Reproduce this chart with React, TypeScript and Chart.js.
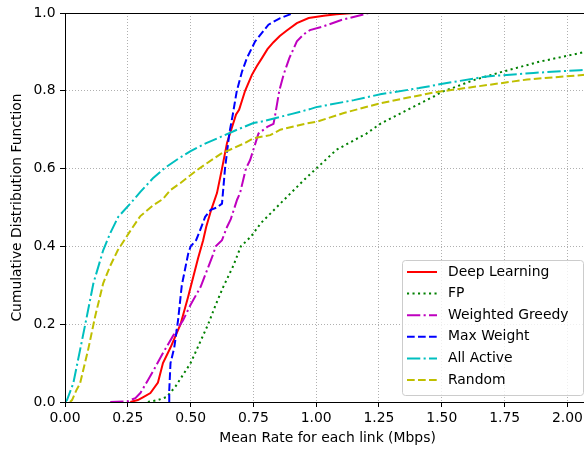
import React, { useEffect, useRef } from 'react';
import { Chart, registerables } from 'chart.js';

Chart.register(...registerables);

// ---------- data ----------
const seriesLabels = ['Deep Learning', 'FP', 'Weighted Greedy', 'Max Weight', 'All Active', 'Random'];

const deepLearningX = [0.26, 0.29, 0.31, 0.34, 0.37, 0.39, 0.42, 0.46, 0.49, 0.51, 0.53, 0.55, 0.562, 0.582, 0.605, 0.625, 0.645, 0.681, 0.693, 0.717, 0.744, 0.764, 0.784, 0.806, 0.83, 0.855, 0.883, 0.923, 0.97, 1.03, 1.08, 1.15];
const deepLearningY = [0, 0.005, 0.012, 0.023, 0.05, 0.1, 0.14, 0.2, 0.27, 0.32, 0.37, 0.416, 0.45, 0.494, 0.537, 0.6, 0.666, 0.739, 0.751, 0.8, 0.841, 0.864, 0.884, 0.907, 0.925, 0.941, 0.955, 0.974, 0.987, 0.993, 0.997, 1.0];

const fpX = [0.33, 0.37, 0.405, 0.44, 0.47, 0.5, 0.535, 0.57, 0.6, 0.63, 0.67, 0.7, 0.74, 0.78, 0.82, 0.857, 0.95, 1.0, 1.08, 1.2, 1.255, 1.36, 1.47, 1.5, 1.63, 1.73, 1.89, 2.05, 2.09];
const fpY = [0, 0.005, 0.013, 0.04, 0.07, 0.1, 0.15, 0.2, 0.25, 0.296, 0.35, 0.4, 0.425, 0.46, 0.486, 0.51, 0.57, 0.6, 0.648, 0.69, 0.715, 0.75, 0.786, 0.797, 0.828, 0.847, 0.875, 0.897, 0.903];

const weightedGreedyX = [0.18, 0.25, 0.28, 0.3, 0.33, 0.36, 0.39, 0.43, 0.47, 0.5, 0.54, 0.59, 0.6, 0.625, 0.645, 0.66, 0.685, 0.697, 0.72, 0.737, 0.77, 0.805, 0.83, 0.837, 0.853, 0.87, 0.893, 0.923, 0.95, 0.975, 1.03, 1.1, 1.21];
const weightedGreedyY = [0, 0.002, 0.01, 0.023, 0.056, 0.09, 0.126, 0.17, 0.21, 0.25, 0.296, 0.38, 0.4, 0.416, 0.45, 0.47, 0.52, 0.537, 0.6, 0.622, 0.69, 0.707, 0.715, 0.739, 0.8, 0.841, 0.884, 0.927, 0.945, 0.956, 0.966, 0.982, 1.0];

const maxWeightX = [0.415, 0.415, 0.42, 0.435, 0.45, 0.465, 0.49, 0.5, 0.522, 0.538, 0.558, 0.58, 0.605, 0.625, 0.637, 0.654, 0.668, 0.684, 0.705, 0.724, 0.757, 0.81, 0.857, 0.91];
const maxWeightY = [0, 0.03, 0.1, 0.14, 0.21, 0.3, 0.38, 0.4, 0.416, 0.442, 0.476, 0.494, 0.5, 0.51, 0.6, 0.69, 0.739, 0.8, 0.85, 0.884, 0.927, 0.97, 0.987, 1.0];

const allActiveX = [0, 0.008, 0.033, 0.06, 0.087, 0.113, 0.152, 0.18, 0.212, 0.26, 0.3, 0.35, 0.4, 0.45, 0.5, 0.56, 0.618, 0.685, 0.75, 0.79, 0.9, 0.976, 1.0, 1.15, 1.255, 1.41, 1.52, 1.68, 1.865, 2.05, 2.09];
const allActiveY = [0, 0.005, 0.048, 0.134, 0.22, 0.305, 0.39, 0.434, 0.476, 0.51, 0.54, 0.575, 0.603, 0.625, 0.645, 0.665, 0.681, 0.7, 0.717, 0.722, 0.74, 0.753, 0.758, 0.776, 0.791, 0.807, 0.82, 0.837, 0.846, 0.853, 0.855];

const randomX = [0.02, 0.028, 0.045, 0.06, 0.092, 0.12, 0.152, 0.18, 0.21, 0.26, 0.3, 0.35, 0.39, 0.42, 0.46, 0.525, 0.62, 0.717, 0.75, 0.817, 0.857, 0.96, 1.0, 1.11, 1.255, 1.47, 1.65, 1.84, 2.05, 2.09];
const randomY = [0, 0.005, 0.03, 0.048, 0.134, 0.22, 0.305, 0.35, 0.39, 0.44, 0.478, 0.505, 0.522, 0.545, 0.563, 0.596, 0.638, 0.666, 0.678, 0.686, 0.7, 0.716, 0.72, 0.743, 0.768, 0.796, 0.812, 0.829, 0.84, 0.842];

const xTickValues = [0, 0.25, 0.5, 0.75, 1.0, 1.25, 1.5, 1.75, 2.0];
const xTickLabels = ['0.00', '0.25', '0.50', '0.75', '1.00', '1.25', '1.50', '1.75', '2.00'];
const yTickValues = [0, 0.2, 0.4, 0.6, 0.8, 1.0];
const yTickLabels = ['0.0', '0.2', '0.4', '0.6', '0.8', '1.0'];

const xAxisTitle = 'Mean Rate for each link (Mbps)';
const yAxisTitle = 'Cumulative Distribution Function';
const xMin = 0;
const xMax = 2.09;
const yMin = 0;
const yMax = 1;

// ---------- styles ----------
const FONT = '"DejaVu Sans", "Liberation Sans", sans-serif';
const FS = 13.9;
const LW = 2;
const DASHED = [7.7, 3.3];
const DASHDOT = [13.3, 3.3, 2.1, 3.3];
const DOTTED = [2.1, 3.4];

const pts = (xs: number[], ys: number[]) => xs.map((x, i) => ({ x, y: ys[i] }));

const seriesX = [deepLearningX, fpX, weightedGreedyX, maxWeightX, allActiveX, randomX];
const seriesY = [deepLearningY, fpY, weightedGreedyY, maxWeightY, allActiveY, randomY];
const seriesColors = ['#ff0000', '#008000', '#bf00bf', '#0000ff', '#00bfbf', '#bfbf00'];
const seriesDash = [[], DOTTED, DASHDOT, DASHED, DASHDOT, DASHED];

const legendPlugin = {
  id: 'mplLegend',
  afterDraw(chart: any) {
    const { ctx, chartArea } = chart;
    const ds = chart.data.datasets;
    const rowH = 21.6;
    const boxW = 181;
    const boxH = 135;
    const right = chartArea.right - 7;
    const bottom = chartArea.bottom - 7;
    const left = Math.round(right - boxW);
    const top = Math.round(bottom - boxH);
    ctx.save();
    ctx.beginPath();
    if (ctx.roundRect) ctx.roundRect(left + 0.5, top + 0.5, boxW, boxH, 3);
    else ctx.rect(left + 0.5, top + 0.5, boxW, boxH);
    ctx.fillStyle = 'rgba(255,255,255,0.8)';
    ctx.fill();
    ctx.strokeStyle = '#cccccc';
    ctx.lineWidth = 1;
    ctx.stroke();
    ds.forEach((d: any, i: number) => {
      const cy = top + 12 + i * rowH;
      ctx.beginPath();
      ctx.setLineDash(d.borderDash || []);
      ctx.strokeStyle = d.borderColor;
      ctx.lineWidth = d.borderWidth;
      ctx.moveTo(left + 5, cy);
      ctx.lineTo(left + 35, cy);
      ctx.stroke();
      ctx.setLineDash([]);
      ctx.fillStyle = '#000';
      ctx.font = `${FS}px ${FONT}`;
      ctx.textBaseline = 'middle';
      ctx.textAlign = 'left';
      ctx.fillText(d.label, left + 46, cy);
    });
    ctx.restore();
  },
};

const topSpinePlugin = {
  id: 'topSpine',
  afterDatasetsDraw(chart: any) {
    const { ctx, chartArea } = chart;
    ctx.save();
    ctx.strokeStyle = '#000';
    ctx.lineWidth = 1;
    ctx.beginPath();
    const y = Math.round(chartArea.top) + 0.5;
    ctx.moveTo(chartArea.left, y);
    ctx.lineTo(chartArea.right, y);
    ctx.moveTo(Math.round(chartArea.right) + 0.5, chartArea.top);
    ctx.lineTo(Math.round(chartArea.right) + 0.5, chartArea.bottom);
    ctx.stroke();
    ctx.restore();
  },
};

export default function App() {
  const ref = useRef<HTMLCanvasElement | null>(null);

  useEffect(() => {
    if (!ref.current) return;
    Chart.defaults.color = '#000';
    Chart.defaults.font.family = FONT;
    Chart.defaults.font.size = FS;

    const datasets = seriesLabels.map((label, i) => ({
      label,
      data: pts(seriesX[i], seriesY[i]),
      borderColor: seriesColors[i],
      backgroundColor: seriesColors[i],
      borderWidth: LW,
      borderDash: seriesDash[i],
      pointRadius: 0,
      pointHoverRadius: 0,
      tension: 0,
      fill: false,
      order: seriesLabels.length - i,
    }));

    const gridCommon = {
      color: '#b0b0b0',
      lineWidth: 1,
      borderDash: [1, 2],
      tickColor: '#000',
      tickLength: 5,
      tickWidth: 1,
      tickBorderDash: [],
    };

    const chart = new Chart(ref.current, {
      type: 'line',
      data: { datasets },
      plugins: [topSpinePlugin, legendPlugin],
      options: {
        animation: false,
        responsive: false,
        maintainAspectRatio: false,
        layout: { padding: { top: 13, right: 10, left: 0, bottom: 0 } },
        plugins: {
          legend: { display: false },
          tooltip: { enabled: false },
        },
        scales: {
          x: {
            type: 'linear',
            min: xMin,
            max: xMax,
            grid: gridCommon,
            border: { display: true, color: '#000', width: 1, dash: [1, 2], z: 1 },
            afterBuildTicks: (s: any) => {
              s.ticks = xTickValues.map((v) => ({ value: v }));
            },
            afterFit: (s: any) => {
              s.height = 47;
            },
            ticks: {
              includeBounds: false,
              padding: 3,
              maxRotation: 0,
              autoSkip: false,
              color: '#000',
              font: { size: FS, family: FONT },
              callback: (_v: any, i: number) => xTickLabels[i],
            },
            title: {
              display: true,
              text: xAxisTitle,
              color: '#000',
              font: { size: FS, family: FONT },
              padding: { top: 0, bottom: 2.7 },
            },
          },
          y: {
            type: 'linear',
            min: yMin,
            max: yMax,
            grid: gridCommon,
            border: { display: true, color: '#000', width: 1, dash: [1, 2], z: 1 },
            afterBuildTicks: (s: any) => {
              s.ticks = yTickValues.map((v) => ({ value: v }));
            },
            afterFit: (s: any) => {
              s.width = 65;
            },
            ticks: {
              padding: 4.5,
              autoSkip: false,
              color: '#000',
              font: { size: FS, family: FONT },
              callback: (_v: any, i: number) => yTickLabels[i],
            },
            title: {
              display: true,
              text: yAxisTitle,
              color: '#000',
              font: { size: FS, family: FONT },
              padding: { top: 9.2, bottom: 0 },
            },
          },
        },
      },
    } as any);

    return () => chart.destroy();
  }, []);

  return (
    <div style={{ position: 'absolute', left: 0, top: 0, width: 584, height: 449, overflow: 'hidden', background: '#fff' }}>
      <canvas ref={ref} width={600} height={449} style={{ width: 600, height: 449, display: 'block' }} />
    </div>
  );
}
